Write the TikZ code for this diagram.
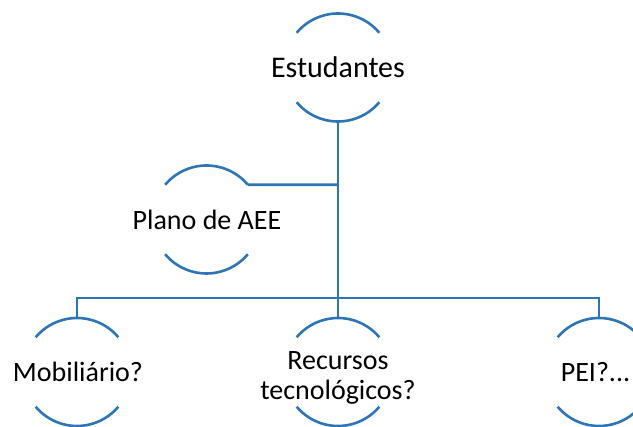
\documentclass[tikz,border=0pt]{standalone}
\usepackage{fontspec}
\setmainfont{Carlito}
\definecolor{sablue}{RGB}{46,117,182}
\begin{document}
\begin{tikzpicture}[x=1pt,y=1pt,
  txt/.style={inner sep=0pt,font=\fontsize{28}{30}\selectfont,align=center},
  arcline/.style={draw=sablue,line width=2.6pt},
  conn/.style={draw=sablue,line width=2.6pt}]
\useasboundingbox (0,0) rectangle (633,427);
\clip (0,0) rectangle (633,427);
% circle centres
\coordinate (est) at (338,359.5);
\coordinate (plano) at (206.5,207.5);
\coordinate (mob) at (77,55);
\coordinate (rec) at (338,55);
\coordinate (pei) at (599,55);
% texts
\node[txt,font=\fontsize{30}{32}\selectfont] (estT) at (338,360) {Estudantes};
\node[txt] (planoT) at (207,207) {Plano de AEE};
\node[txt] (mobT) at (78,55) {Mobiliário?};
\node[txt] (recT) at (338,49.5) {Recursos\\tecnológicos?};
\node[txt] (peiT) at (595.5,55) {PEI?...};
% arcs
\foreach \n in {est,plano,mob,rec,pei}{
  \draw[arcline] (\n) ++(40:54) arc[start angle=40,end angle=140,radius=54];
  \draw[arcline] (\n) ++(220:54) arc[start angle=220,end angle=320,radius=54];
  \path (\n) ++(90:54) coordinate (\n-top);
  \path (\n) ++(-90:54) coordinate (\n-bot);
  \path (\n) ++(40:54) coordinate (\n-ne);
}
\coordinate (bus) at (338,129);
\coordinate (jp) at (338,242.2);
\draw[conn] (est-bot) -- (bus);
\draw[conn] (plano-ne) -- (jp);
\draw[conn] (mob-top) |- (bus) -| (pei-top);
\draw[conn] (bus) -- (rec-top);
\end{tikzpicture}
\end{document}
